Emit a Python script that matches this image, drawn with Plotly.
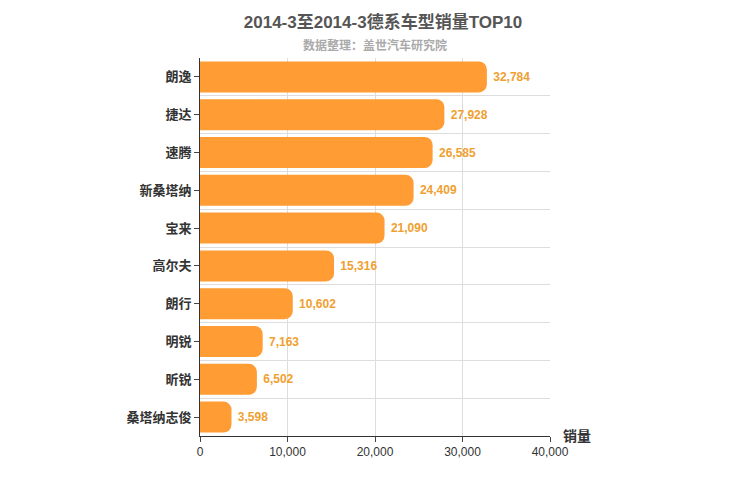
import plotly.graph_objects as go

models = ["朗逸", "捷达", "速腾", "新桑塔纳", "宝来", "高尔夫", "朗行", "明锐", "昕锐", "桑塔纳志俊"]
sales = [32784, 27928, 26585, 24409, 21090, 15316, 10602, 7163, 6502, 3598]

pos = list(range(len(models)))[::-1]

fig = go.Figure()
fig.add_trace(go.Bar(
    x=sales, y=pos, orientation="h",
    marker=dict(color="#FF9C33", cornerradius=8, line=dict(width=0)),
    width=0.82,
    text=[f"<b> {v:,}</b>" for v in sales], textposition="outside",
    textfont=dict(color="#F0A030", size=12),
    cliponaxis=False,
))

fig.update_layout(
    width=750, height=500,
    margin=dict(l=192, r=208, t=50, b=72),
    plot_bgcolor="white", paper_bgcolor="white",
    font=dict(family="Liberation Sans, Noto Sans CJK SC", color="#333"),
    showlegend=False,
    title=dict(text="<b>2014-3至2014-3德系车型销量TOP10</b>", x=0.5, y=0.972,
               xanchor="center", yanchor="middle", font=dict(size=17, color="#555")),
    annotations=[
        dict(text="<b>数据整理：盖世汽车研究院</b>", x=0.5, y=1.032, xref="paper", yref="paper",
             showarrow=False, font=dict(size=12, color="#AAA"), xanchor="center",
             yanchor="middle"),
        dict(text="<b>销量</b>", x=1.03, y=0, xref="paper", yref="paper", showarrow=False,
             xanchor="left", yanchor="middle", font=dict(size=14, color="#333")),
    ],
    xaxis=dict(range=[0, 40000], dtick=10000, tickformat=",", showgrid=True,
               gridcolor="#DDD", zeroline=False, showline=True, linecolor="#333",
               ticks="outside", ticklen=5, tickfont=dict(size=12, color="#333")),
    yaxis=dict(range=[-0.5, 9.5], tickvals=pos, ticktext=[f"<b>{m}</b>" for m in models],
               showgrid=False, zeroline=False, showline=True, linecolor="#333",
               ticks="outside", ticklen=5, tickfont=dict(size=13, color="#333"),
               minor=dict(tick0=0.5, dtick=1, showgrid=True, gridcolor="#DDD")),
)

fig.write_html("out.html")
